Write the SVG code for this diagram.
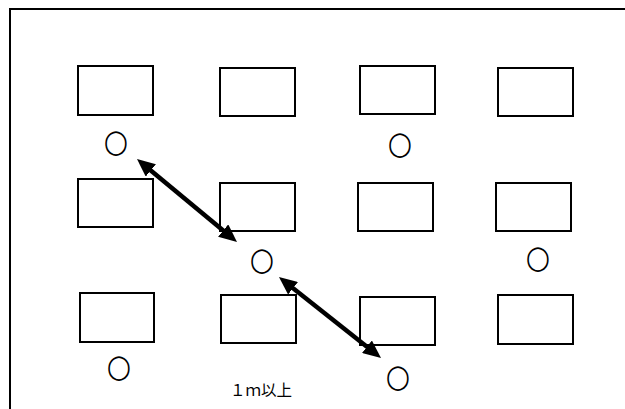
<svg xmlns="http://www.w3.org/2000/svg" width="625" height="409" viewBox="0 0 625 409">
<style>
.frame{fill:none;stroke:#000;stroke-width:2}
.desk{fill:#fff;stroke:#000;stroke-width:2}
.seat{font-family:"DejaVu Sans",sans-serif;font-size:28px;fill:#000;text-anchor:middle}
.lbl{font-family:"Liberation Sans","Noto Sans CJK JP",sans-serif;font-size:15.5px;fill:#000}
.arr{stroke:#000;stroke-width:4.5;fill:none;marker-start:url(#ah);marker-end:url(#ah)}
</style>
<defs>
<marker id="ah" viewBox="0 0 18 16" refX="2" refY="8" markerWidth="18" markerHeight="16" markerUnits="userSpaceOnUse" orient="auto-start-reverse">
<path d="M0,0 L18,8 L0,16 z" fill="#000"/>
</marker>
</defs>
<path class="frame" d="M10,409 V9 H625"/>
<g id="desk-r1c1"><rect class="desk" x="78" y="66" width="75" height="49"/></g>
<g id="desk-r1c2"><rect class="desk" x="220" y="68" width="75" height="48"/></g>
<g id="desk-r1c3"><rect class="desk" x="360" y="66" width="75" height="48"/></g>
<g id="desk-r1c4"><rect class="desk" x="498" y="68" width="75" height="48"/></g>
<g id="desk-r2c1"><rect class="desk" x="78" y="179" width="75" height="48"/></g>
<g id="desk-r2c2"><rect class="desk" x="220" y="183" width="75" height="48"/></g>
<g id="desk-r2c3"><rect class="desk" x="358" y="183" width="75" height="48"/></g>
<g id="desk-r2c4"><rect class="desk" x="496" y="183" width="75" height="48"/></g>
<g id="desk-r3c1"><rect class="desk" x="80" y="293" width="74" height="49"/></g>
<g id="desk-r3c2"><rect class="desk" x="221" y="295" width="75" height="48"/></g>
<g id="desk-r3c3"><rect class="desk" x="360" y="297" width="75" height="48"/></g>
<g id="desk-r3c4"><rect class="desk" x="498" y="295" width="75" height="49"/></g>
<g id="seat-1"><text class="seat" transform="translate(116,152) scale(1,1.15)">○</text></g>
<g id="seat-2"><text class="seat" transform="translate(400,154) scale(1,1.15)">○</text></g>
<g id="seat-3"><text class="seat" transform="translate(262,270) scale(1,1.15)">○</text></g>
<g id="seat-4"><text class="seat" transform="translate(538,268) scale(1,1.15)">○</text></g>
<g id="seat-5"><text class="seat" transform="translate(119,377) scale(1,1.15)">○</text></g>
<g id="seat-6"><text class="seat" transform="translate(398,387) scale(1,1.15)">○</text></g>
<g id="connectors">
<line class="arr" x1="149.3" y1="169.2" x2="224.7" y2="231.8"/>
<line class="arr" x1="291.5" y1="287" x2="368.5" y2="348"/>
</g>
<g id="label"><text class="lbl" x="230" y="396">１ｍ以上</text></g>
</svg>
